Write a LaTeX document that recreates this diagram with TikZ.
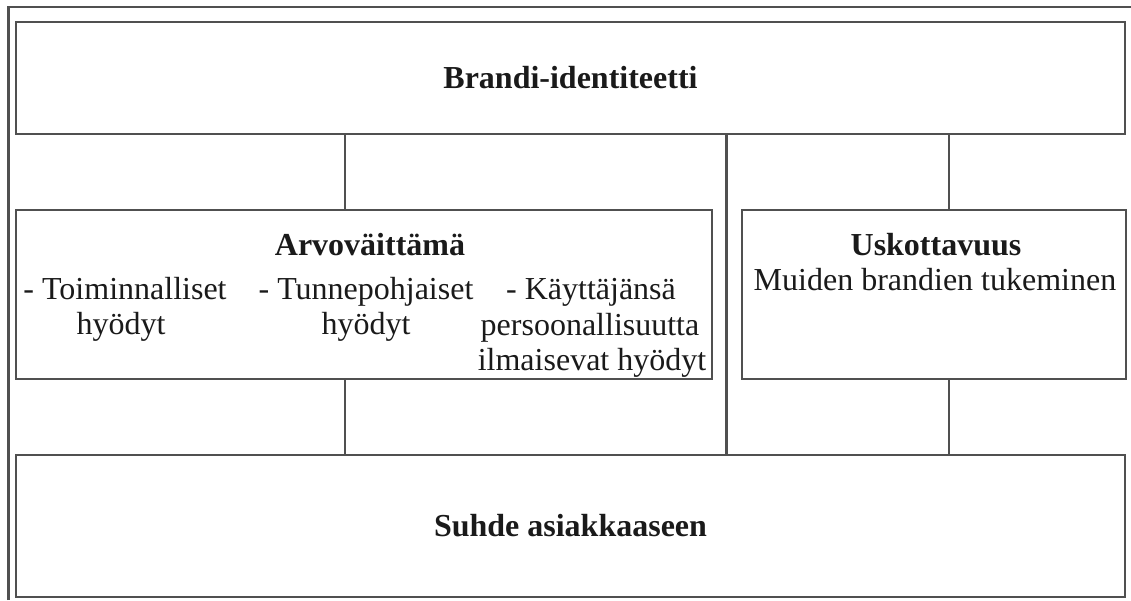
\documentclass[tikz,border=0pt]{standalone}
\usepackage{fontspec}
\setmainfont{Liberation Serif}
\definecolor{edge}{HTML}{505050}
\definecolor{ink}{HTML}{1A1A1A}
\begin{document}
\begin{tikzpicture}[x=1pt,y=-1pt,
  box/.style={draw=edge,line width=2.2pt,rectangle,inner sep=0pt,fill=white},
  link/.style={draw=edge,line width=2.2pt},
  txt/.style={text=ink,inner sep=0pt,anchor=base,font=\fontsize{32}{35}\selectfont},
  head/.style={txt,font=\fontsize{32}{35}\selectfont\bfseries}]
\useasboundingbox (0,0) rectangle (1131,600);
\fill[white] (0,0) rectangle (1131,600);
% outer frame
\draw[edge,line width=2.2pt] (8.5,600) -- (8.5,7) -- (1131,7);

% main boxes
\node[box,minimum width=1109pt,minimum height=112pt,
      font=\fontsize{32}{35}\selectfont\bfseries,text=ink] (brand) at (570.5,78) {Brandi-identiteetti};
\node[box,minimum width=696pt,minimum height=169pt] (arvo) at (364,294.5) {};
\node[box,minimum width=384pt,minimum height=169pt] (usko) at (934,294.5) {};
\node[box,minimum width=1109pt,minimum height=142pt,
      font=\fontsize{32}{35}\selectfont\bfseries,text=ink] (rel) at (570.5,526) {Suhde asiakkaaseen};

% connector columns
\coordinate (cl) at (345,0);
\coordinate (cm) at (726.5,0);
\coordinate (cr) at (949,0);
\draw[link] (cl |- brand.south) -- (cl |- arvo.north);
\draw[link] (cl |- arvo.south) -- (cl |- rel.north);
\draw[link] (cm |- brand.south) -- (cm |- rel.north);
\draw[link] (cr |- brand.south) -- (cr |- usko.north);
\draw[link] (cr |- usko.south) -- (cr |- rel.north);

% Arvoväittämä contents
\node[head] (arvoT) at (370,255) {Arvoväittämä};
\node[txt] (a1a) at (125,299) {- Toiminnalliset};
\node[txt] (a1b) at (121,334) {hyödyt};
\node[txt] (a2a) at (366,299) {- Tunnepohjaiset};
\node[txt] (a2b) at (366,334) {hyödyt};
\node[txt] (a3a) at (591,299) {- Käyttäjänsä};
\node[txt] (a3b) at (590,335) {persoonallisuutta};
\node[txt] (a3c) at (592,370) {ilmaisevat hyödyt};

% Uskottavuus contents
\node[head] (uskoT) at (936,255) {Uskottavuus};
\node[txt] (usko1) at (935,290) {Muiden brandien tukeminen};
\end{tikzpicture}
\end{document}
